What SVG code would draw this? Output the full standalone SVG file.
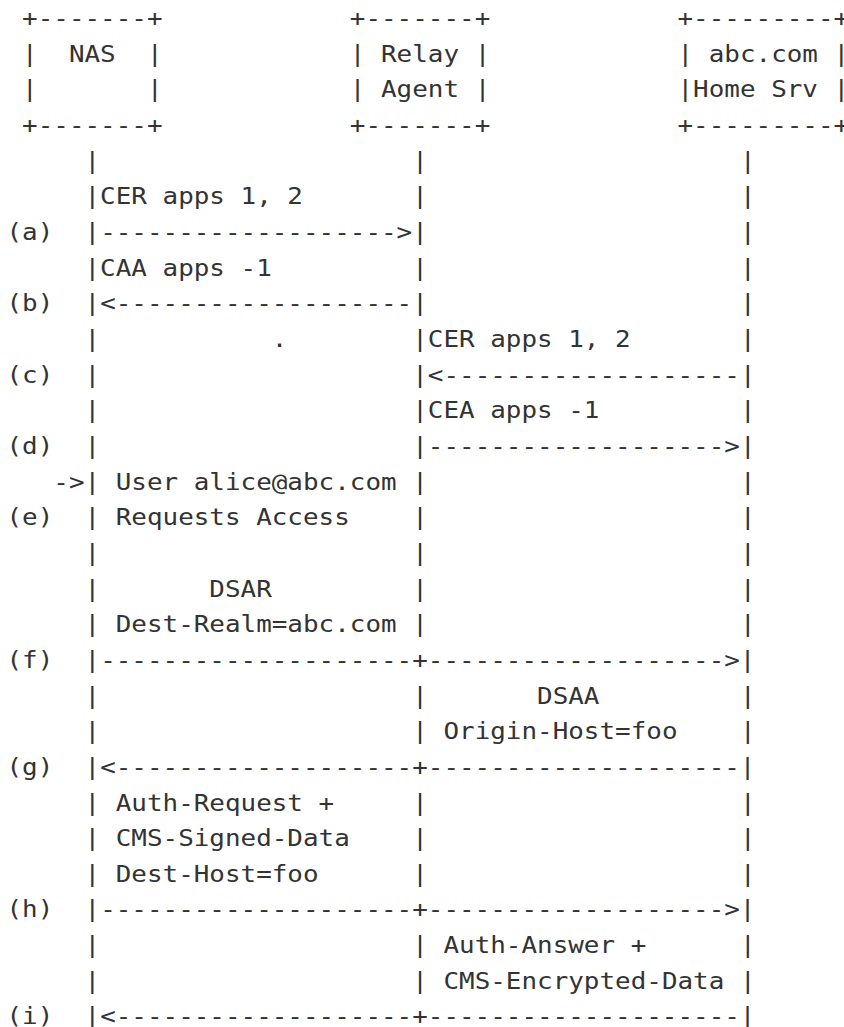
<svg xmlns="http://www.w3.org/2000/svg" width="844" height="1027" viewBox="0 0 844 1027">
<style>
text{font-family:"DejaVu Sans Mono","Liberation Mono",monospace;font-size:23px;fill:#333;white-space:pre}
</style>
<rect width="844" height="1027" fill="#fff"/>
<g transform="translate(6.5 0) scale(1.12695 1)">
<g id="node-nas">
<text x="13.847" y="26">+-------+</text>
<text x="13.847" y="61.66">|  NAS  |</text>
<text x="13.847" y="97.32">|       |</text>
<text x="13.847" y="132.98">+-------+</text>
</g>
<g id="node-relay">
<text x="304.64" y="26">+-------+</text>
<text x="304.64" y="61.66">| Relay |</text>
<text x="304.64" y="97.32">| Agent |</text>
<text x="304.64" y="132.98">+-------+</text>
</g>
<g id="node-home">
<text x="595.43" y="26">+---------+</text>
<text x="595.43" y="61.66">| abc.com |</text>
<text x="595.43" y="97.32">|Home Srv |</text>
<text x="595.43" y="132.98">+---------+</text>
</g>
<g id="connectors">
<g id="lifeline-nas">
<text x="69.24" y="168.64">|</text>
<text x="69.24" y="204.3">|</text>
<text x="69.24" y="275.62">|</text>
<text x="69.24" y="346.94">|</text>
<text x="69.24" y="382.6">|</text>
<text x="69.24" y="418.26">|</text>
<text x="69.24" y="453.92">|</text>
<text x="41.54" y="489.58">-&gt;|</text>
<text x="69.24" y="525.24">|</text>
<text x="69.24" y="560.9">|</text>
<text x="69.24" y="596.56">|</text>
<text x="69.24" y="632.22">|</text>
<text x="69.24" y="703.54">|</text>
<text x="69.24" y="739.2">|</text>
<text x="69.24" y="810.52">|</text>
<text x="69.24" y="846.18">|</text>
<text x="69.24" y="881.84">|</text>
<text x="69.24" y="953.16">|</text>
<text x="69.24" y="988.82">|</text>
</g>
<g id="lifeline-relay">
<text x="360.03" y="168.64">|</text>
<text x="360.03" y="204.3">|</text>
<text x="360.03" y="275.62">|</text>
<text x="360.03" y="346.94">|</text>
<text x="360.03" y="418.26">|</text>
<text x="360.03" y="489.58">|</text>
<text x="360.03" y="525.24">|</text>
<text x="360.03" y="560.9">|</text>
<text x="360.03" y="596.56">|</text>
<text x="360.03" y="632.22">|</text>
<text x="360.03" y="703.54">|</text>
<text x="360.03" y="739.2">|</text>
<text x="360.03" y="810.52">|</text>
<text x="360.03" y="846.18">|</text>
<text x="360.03" y="881.84">|</text>
<text x="360.03" y="953.16">|</text>
<text x="360.03" y="988.82">|</text>
</g>
<g id="lifeline-home">
<text x="650.81" y="168.64">|</text>
<text x="650.81" y="204.3">|</text>
<text x="650.81" y="239.96">|</text>
<text x="650.81" y="275.62">|</text>
<text x="650.81" y="311.28">|</text>
<text x="650.81" y="346.94">|</text>
<text x="650.81" y="418.26">|</text>
<text x="650.81" y="489.58">|</text>
<text x="650.81" y="525.24">|</text>
<text x="650.81" y="560.9">|</text>
<text x="650.81" y="596.56">|</text>
<text x="650.81" y="632.22">|</text>
<text x="650.81" y="703.54">|</text>
<text x="650.81" y="739.2">|</text>
<text x="650.81" y="810.52">|</text>
<text x="650.81" y="846.18">|</text>
<text x="650.81" y="881.84">|</text>
<text x="650.81" y="953.16">|</text>
<text x="650.81" y="988.82">|</text>
</g>
<g id="arrows">
<text x="69.24" y="239.96">|-------------------&gt;|</text>
<text x="69.24" y="311.28">|&lt;-------------------|</text>
<text x="360.03" y="382.6">|&lt;-------------------|</text>
<text x="360.03" y="453.92">|-------------------&gt;|</text>
<text x="69.24" y="667.88">|--------------------+-------------------&gt;|</text>
<text x="69.24" y="774.86">|&lt;-------------------+--------------------|</text>
<text x="69.24" y="917.5">|--------------------+-------------------&gt;|</text>
<text x="69.24" y="1024.48">|&lt;-------------------+--------------------|</text>
</g>
</g>
<g id="step-labels">
<text x="0" y="239.96">(a)</text>
<text x="0" y="311.28">(b)</text>
<text x="0" y="382.6">(c)</text>
<text x="0" y="453.92">(d)</text>
<text x="0" y="525.24">(e)</text>
<text x="0" y="667.88">(f)</text>
<text x="0" y="774.86">(g)</text>
<text x="0" y="917.5">(h)</text>
<text x="0" y="1024.48">(i)</text>
</g>
<g id="message-labels">
<text x="83.08" y="204.3">CER apps 1, 2</text>
<text x="83.08" y="275.62">CAA apps -1</text>
<text x="235.40" y="346.94">.</text>
<text x="373.87" y="346.94">CER apps 1, 2</text>
<text x="373.87" y="418.26">CEA apps -1</text>
<text x="96.93" y="489.58">User alice@abc.com</text>
<text x="96.93" y="525.24">Requests Access</text>
<text x="180.01" y="596.56">DSAR</text>
<text x="96.93" y="632.22">Dest-Realm=abc.com</text>
<text x="470.80" y="703.54">DSAA</text>
<text x="387.72" y="739.2">Origin-Host=foo</text>
<text x="96.93" y="810.52">Auth-Request +</text>
<text x="96.93" y="846.18">CMS-Signed-Data</text>
<text x="96.93" y="881.84">Dest-Host=foo</text>
<text x="387.72" y="953.16">Auth-Answer +</text>
<text x="387.72" y="988.82">CMS-Encrypted-Data</text>
</g>
</g>
</svg>
